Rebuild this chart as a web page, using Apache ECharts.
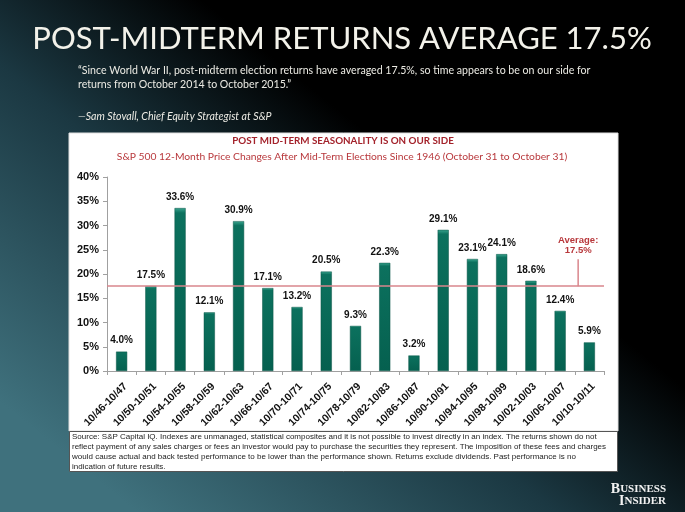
<!DOCTYPE html>
<html><head><meta charset="utf-8">
<script src="https://cdn.jsdelivr.net/npm/echarts@6/dist/echarts.min.js"></script>
<style>html,body{margin:0;padding:0;background:#000}#c{width:685px;height:512px}</style>
</head><body><div id="c"></div>
<script>
const categories = ['10/46-10/47','10/50-10/51','10/54-10/55','10/58-10/59','10/62-10/63','10/66-10/67','10/70-10/71','10/74-10/75','10/78-10/79','10/82-10/83','10/86-10/87','10/90-10/91','10/94-10/95','10/98-10/99','10/02-10/03','10/06-10/07','10/10-10/11'];
const returnsPct = [4.0,17.5,33.6,12.1,30.9,17.1,13.2,20.5,9.3,22.3,3.2,29.1,23.1,24.1,18.6,12.4,5.9];
const averagePct = 17.5;
const yTicks = [0,5,10,15,20,25,30,35,40];
const mainTitle = 'POST-MIDTERM RETURNS AVERAGE 17.5%';
const quoteLines = ['\u201cSince World War II, post-midterm election returns have averaged 17.5%, so time appears to be on our side for','returns from October 2014 to October 2015.\u201d'];
const attribution = '\u2014Sam Stovall, Chief Equity Strategist at S&P';
const chartTitle = 'POST MID-TERM SEASONALITY IS ON OUR SIDE';
const chartSubtitle = 'S&P 500 12-Month Price Changes After Mid-Term Elections Since 1946 (October 31 to October 31)';
const sourceLines = ['Source: S&P Capital IQ. Indexes are unmanaged, statistical composites and it is not possible to invest directly in an index. The returns shown do not',
'reflect payment of any sales charges or fees an investor would pay to purchase the securities they represent. The imposition of these fees and charges',
'would cause actual and back tested performance to be lower than the performance shown. Returns exclude dividends. Past performance is no',
'indication of future results.'];

const chart = echarts.init(document.getElementById('c'));
const barColor = new echarts.graphic.LinearGradient(0,0,0,1,[
  {offset:0,color:'#3aa58f'},{offset:0.03,color:'#0c715e'},{offset:1,color:'#05604f'}]);
const option = {
  animation:false,
  graphic:[
    {id:'bg',type:'rect',z:-30,shape:{x:0,y:0,width:685,height:512},style:{fill:new echarts.graphic.LinearGradient(0.8,0,0.2,1,[
      {offset:0,color:'#000000'},{offset:0.33,color:'#000000'},{offset:0.6,color:'#1b3842'},{offset:1,color:'#3f717d'}])}},
    {id:'panel',type:'rect',z:-20,shape:{x:69,y:133,width:549,height:298},style:{fill:'#ffffff',stroke:'#e0e0e0',lineWidth:1}},
    {id:'srcbox',type:'rect',z:-20,shape:{x:69.5,y:431.5,width:548,height:40},style:{fill:'#ffffff',stroke:'#555555',lineWidth:1}},
    {id:'t1',type:'text',x:342,y:39,style:{text:mainTitle,fill:'#f3f2ea',font:'31px Lato',textAlign:'center',textVerticalAlign:'middle'}},
    {id:'q1',type:'text',x:78,y:71,style:{text:quoteLines[0],fill:'#ecebe4',font:'10.6px Lato',textVerticalAlign:'middle'}},
    {id:'q2',type:'text',x:78,y:84.5,style:{text:quoteLines[1],fill:'#ecebe4',font:'10.6px Lato',textVerticalAlign:'middle'}},
    {id:'att',type:'text',x:78,y:117,style:{text:attribution,fill:'#ecebe4',font:'italic 10.6px Lato',textVerticalAlign:'middle'}},
    {id:'ct',type:'text',x:343,y:141,style:{text:chartTitle,fill:'#a3222b',font:'bold 9.8px Lato',textAlign:'center',textVerticalAlign:'middle'}},
    {id:'cs',type:'text',x:342,y:157,style:{text:chartSubtitle,fill:'#b8383c',font:'10.3px Lato',textAlign:'center',textVerticalAlign:'middle'}},
    ...sourceLines.map((t,i)=>({id:'s'+i,type:'text',x:72,y:436.5+i*10,style:{text:t,fill:'#222',font:'8px "Liberation Sans"',textVerticalAlign:'middle'}})),
    {id:'bi1',type:'text',x:666,y:489,style:{text:'{a|B}{b|USINESS}',textAlign:'right',textVerticalAlign:'middle',rich:{a:{fill:'#f2f2f2',font:'bold 14px "Liberation Serif"'},b:{fill:'#f2f2f2',font:'bold 11px "Liberation Serif"'}}}},
    {id:'bi2',type:'text',x:666,y:501,style:{text:'{a|I}{b|NSIDER}',textAlign:'right',textVerticalAlign:'middle',rich:{a:{fill:'#f2f2f2',font:'bold 14px "Liberation Serif"'},b:{fill:'#f2f2f2',font:'bold 11px "Liberation Serif"'}}}}
  ],
  grid:{left:107,right:81,top:177,bottom:141,containLabel:false},
  xAxis:{type:'category',data:categories,
    axisLine:{lineStyle:{color:'#a0a0a0',width:1}},
    axisTick:{show:true,length:4,lineStyle:{color:'#a0a0a0'}},
    axisLabel:{rotate:45,margin:10,verticalAlign:'top',color:'#111',fontSize:10.5,fontWeight:'bold',fontFamily:'Liberation Sans',interval:0}},
  yAxis:{type:'value',min:0,max:40,interval:5,
    axisLine:{show:true,lineStyle:{color:'#a0a0a0'}},
    axisTick:{show:true,length:4,lineStyle:{color:'#a0a0a0'}},
    splitLine:{show:false},
    axisLabel:{formatter:v=>v+'%',color:'#111',fontSize:11,fontWeight:'bold',fontFamily:'Liberation Sans',margin:8}},
  series:[{type:'bar',data:returnsPct,barWidth:'38%',
    itemStyle:{color:barColor,borderColor:'#0a5546',borderWidth:0.5},
    label:{show:true,position:'top',distance:6,formatter:p=>p.value.toFixed(1)+'%',color:'#111',fontSize:10,fontWeight:'bold',fontFamily:'Liberation Sans'},
    markLine:{symbol:'none',silent:true,label:{show:false},lineStyle:{color:'#d9868c',type:'solid',width:1.5},data:[{yAxis:averagePct}]}
  }]
};
chart.setOption(option);
const avgY = chart.convertToPixel({yAxisIndex:0}, averagePct);
const labelX = chart.convertToPixel({xAxisIndex:0}, categories[15]) + 18;
chart.setOption({graphic:[
  {id:'avgline',type:'line',shape:{x1:labelX,y1:avgY-27,x2:labelX,y2:avgY},style:{stroke:'#d9868c',lineWidth:1.5}},
  {id:'avglabel',type:'text',x:labelX,y:avgY-41,style:{text:'Average:\n'+averagePct+'%',fill:'#b8383c',font:'bold 9.5px "Liberation Sans"',textAlign:'center',textVerticalAlign:'middle',lineHeight:10}}
]});
</script></body></html>
